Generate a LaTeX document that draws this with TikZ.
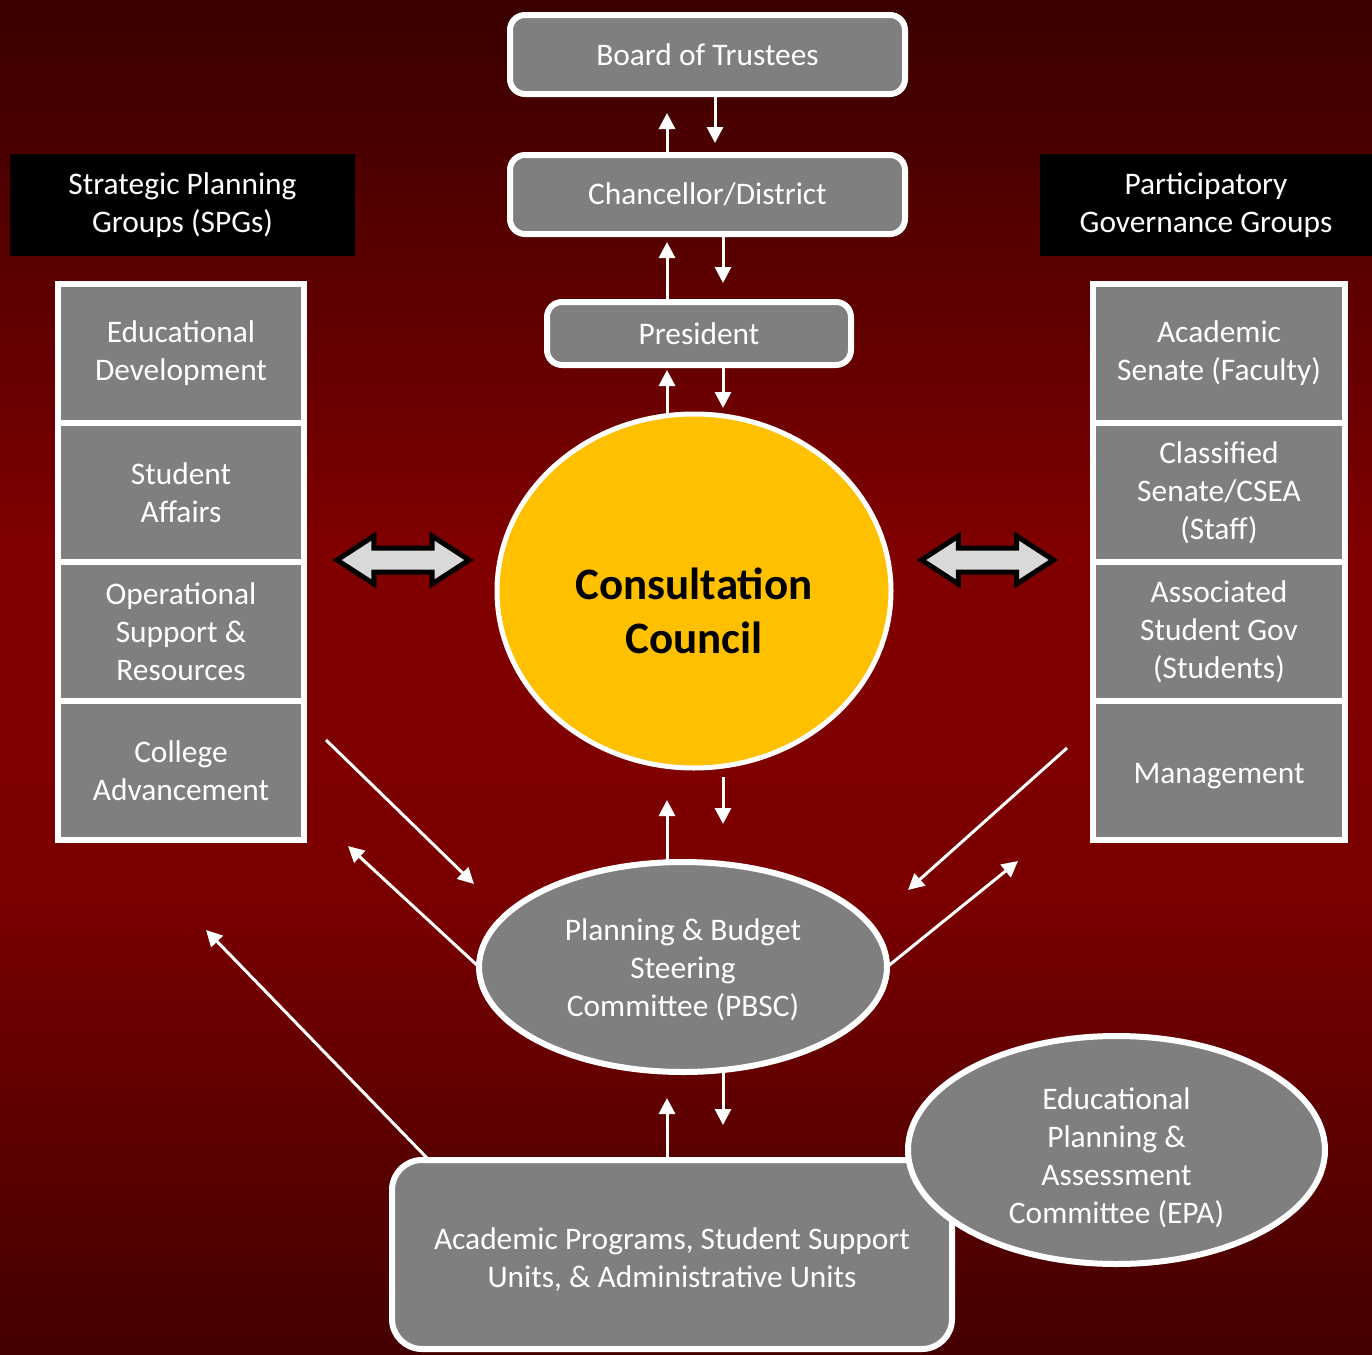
\documentclass[tikz,border=0pt]{standalone}
\usepackage{fontspec}
\setmainfont{Carlito}
\usetikzlibrary{arrows.meta,positioning,shapes.geometric,shapes.arrows}

\definecolor{boxgray}{HTML}{7F7F7F}
\definecolor{councilgold}{HTML}{FFC000}
\definecolor{arrowgray}{HTML}{D9D9D9}
\definecolor{bgbottom}{HTML}{450000}
\definecolor{bglow}{HTML}{600000}
\definecolor{bgmid}{HTML}{7A0000}
\definecolor{bgpeak}{HTML}{800000}
\definecolor{bghigh}{HTML}{5E0000}
\definecolor{bgtop}{HTML}{3A0000}
\pgfdeclareverticalshading{redback}{100bp}{color(0bp)=(bgbottom); color(25bp)=(bgbottom); color(34.4bp)=(bglow); color(41.8bp)=(bgmid); color(49.2bp)=(bgpeak); color(54.7bp)=(bgpeak); color(64bp)=(bghigh); color(75bp)=(bgtop); color(100bp)=(bgtop)}

\newcommand{\boxfont}{\fontsize{15.7}{19}\selectfont}
\newcommand{\councilfont}{\fontsize{22.5}{27}\selectfont\bfseries}

\begin{document}
\begin{tikzpicture}[x=0.5pt,y=-0.5pt,
	topbox/.style={draw=white,line width=3pt,fill=boxgray,text=white,font=\boxfont,align=center,rounded corners=7.5pt,inner sep=0pt,outer sep=0pt},
	cell/.style={draw=white,line width=3pt,fill=boxgray,text=white,font=\boxfont,align=center,inner sep=0pt,outer sep=0pt,minimum height=69.5pt},
	header/.style={fill=black,text=white,font=\boxfont,align=center,minimum height=51pt,inner sep=0pt},
	oval/.style={ellipse,draw=white,line width=3pt,fill=boxgray,text=white,font=\boxfont,align=center,inner sep=0pt,outer sep=0pt},
	label text/.style={font=\boxfont,text=white,align=center},
	council/.style={ellipse,draw=white,line width=2.5pt,fill=councilgold,inner sep=0pt,outer sep=0pt,minimum width=197pt,minimum height=177pt},
	twoway/.style={double arrow,draw=black,fill=arrowgray,line width=2.5pt,inner xsep=0pt,inner ysep=4.75pt,minimum height=66pt,double arrow head extend=6pt,double arrow tip angle=66},
	flow/.style={draw=white,line width=1.5pt,-{Triangle[length=8pt,width=8pt]}}]
			%%%%% START %%%%%
			
			\useasboundingbox (0,0) rectangle (1372,1355);
			\shade[shading=redback] (0,0) rectangle (1372,1355);
			
			% chain at the top
			\node[topbox,minimum width=197.5pt,minimum height=39.5pt] (board) at (707.5,54.5) {Board of Trustees};
			\node[topbox,minimum width=197.5pt,minimum height=39.5pt] (chan) at (707.5,194.5) {Chancellor/District};
			\node[topbox,minimum width=152pt,minimum height=31.5pt] (pres) at (699,333.5) {President};
			
			\node[council] (cc) at (694,591) {};
			\node[font=\councilfont,align=center] (cctext) at ([yshift=-10pt]cc.center) {Consultation\\Council};
			
			\node[oval,minimum width=204pt,minimum height=105pt] (pbsc) at (683,967) {};
			\node[label text] (pbsctext) at ([yshift=-1.5pt]pbsc.center) {Planning \& Budget\\Steering\\Committee (PBSC)};
			
			\node[topbox,rounded corners=15pt,minimum width=280pt,minimum height=94.5pt] (units) at (672,1254.5) {};
			\node[label text] (unitstext) at ([yshift=-2.5pt]units.center) {Academic Programs, Student Support\\Units, \& Administrative Units};
			\node[oval,minimum width=208.5pt,minimum height=114pt] (epa) at (1116.5,1150) {};
			\node[label text] (epatext) at ([yshift=-4pt]epa.center) {Educational\\Planning \&\\Assessment\\Committee (EPA)};
			
			% side groups
			\node[header,minimum width=172.5pt] (spg) at (182.5,205) {Strategic Planning\\Groups (SPGs)};
			\node[header,minimum width=166pt] (pgg) at (1206,205) {Participatory\\Governance Groups};
			
			\node[cell,minimum width=123pt] (edu) at (181,353.5) {Educational\\Development};
			\node[cell,minimum width=123pt,below=0pt of edu] (stu) {Student\\Affairs};
			\node[cell,minimum width=123pt,below=0pt of stu] (ops) {Operational\\Support \&\\Resources};
			\node[cell,minimum width=123pt,below=0pt of ops] (adv) {College\\Advancement};
			
			\node[cell,minimum width=126pt] (sen) at (1219,353.5) {Academic\\Senate (Faculty)};
			\node[cell,minimum width=126pt,below=0pt of sen] (csea) {Classified\\Senate/CSEA\\(Staff)};
			\node[cell,minimum width=126pt,below=0pt of csea] (asg) {Associated\\Student Gov\\(Students)};
			\node[cell,minimum width=126pt,below=0pt of asg] (mgmt) {};
			\node[label text] (mgmttext) at ([yshift=-3pt]mgmt.center) {Management};
			
			\node[twoway] (leftway) at (403,560) {};
			\node[twoway] (rightway) at (987.5,560) {};
			
			% up and down arrows
			\coordinate (upx) at (667,0);
			\coordinate (dnx) at (723,0);
			\coordinate (dnxtop) at (715,0);
			
			\draw[flow,shorten >=9.5pt] (chan.north -| upx) -- (board.south -| upx);
			\draw[flow,shorten >=6pt] (board.south -| dnxtop) -- (chan.north -| dnxtop);
			\draw[flow,shorten >=4pt] (pres.north -| upx) -- (chan.south -| upx);
			\draw[flow,shorten >=9.5pt] (chan.south -| dnx) -- (pres.north -| dnx);
			\draw[flow,shorten >=2.5pt] (cc.north -| upx) -- (pres.south -| upx);
			\draw[flow,shorten >=3pt] (pres.south -| dnx) -- (cc.north -| dnx);
			\draw[flow,shorten >=16pt] (pbsc.north -| upx) -- (cc.south -| upx);
			\draw[flow,shorten <=4.5pt,shorten >=19pt] (cc.south -| dnx) -- (pbsc.north -| dnx);
			\draw[flow,shorten >=13pt] (units.north -| upx) -- (pbsc.south -| upx);
			\draw[flow,shorten >=17.5pt] (pbsc.south -| dnx) -- (units.north -| dnx);
			
			% slanted arrows
			\coordinate (spgout) at (326,740);
			\coordinate (spgin) at (474,884);
			\coordinate (spgback) at (348,846);
			\coordinate (unitsfoot) at (427,1158);
			\coordinate (unitsup) at (206,930);
			\coordinate (pggout) at (1067,748);
			\coordinate (pggin) at (908,890);
			\coordinate (pggback) at (1018,861);
			
			\draw[flow] (spgout) -- (spgin);
			\draw[flow] (pbsc.west) -- (spgback);
			\draw[flow] (unitsfoot) -- (unitsup);
			\draw[flow] (pggout) -- (pggin);
			\draw[flow] (pbsc.east) -- (pggback);
			
			%%%%% END %%%%%
		\end{tikzpicture}
\end{document}
